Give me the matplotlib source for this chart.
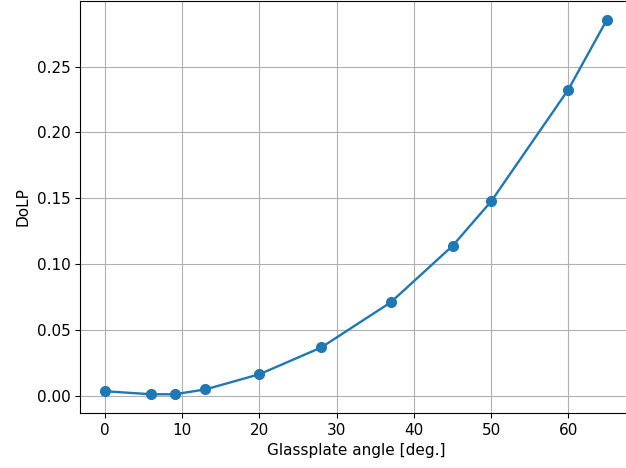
import matplotlib
matplotlib.use("Agg")
import matplotlib.pyplot as plt

# glass plate tilt angle vs. degree of linear polarisation
angles = [0, 6, 9, 13, 20, 28, 37, 45, 50, 60, 65]
dolp = [0.0038, 0.0015, 0.0015, 0.0052, 0.0167, 0.037, 0.0712, 0.114, 0.1477, 0.2325, 0.2855]

plt.rcParams["font.size"] = 11

fig = plt.figure(figsize=(6.26, 4.68), dpi=100)
# the original is cropped a little on the right, so the axes run past the edge
ax = fig.add_axes([80 / 626, 55 / 468, 552 / 626, 412 / 468])

ax.plot(angles, dolp, "-o", color="#1f77b4", linewidth=1.7, markersize=7)
ax.set_xlabel("Glassplate angle [deg.]")
ax.set_ylabel("DoLP")
ax.grid(True)

fig.savefig("out.png", dpi=100)
